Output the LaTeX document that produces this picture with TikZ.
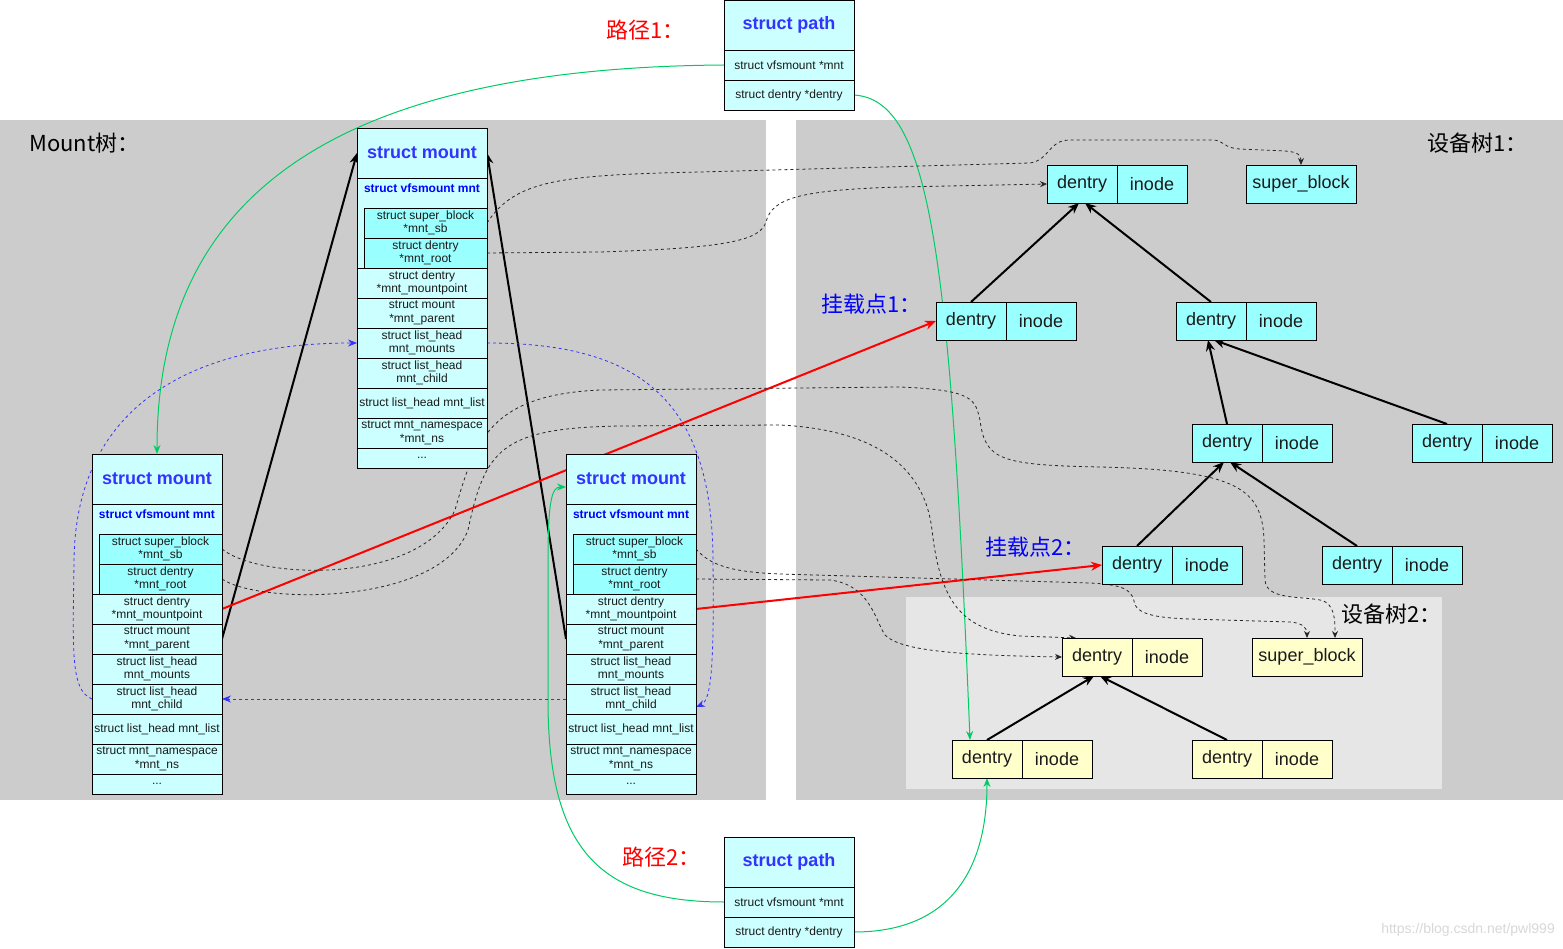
\documentclass[tikz,border=0pt]{standalone}
\usepackage{fontspec}
\setmainfont{Liberation Sans}
\newfontfamily\cjk{Noto Sans CJK SC}
\usetikzlibrary{arrows.meta,calc}
\definecolor{bgg}{HTML}{CCCCCC}
\definecolor{bgl}{HTML}{E6E6E6}
\definecolor{cyl}{HTML}{CCFFFF}
\definecolor{cyd}{HTML}{99FFFF}
\definecolor{yel}{HTML}{FFFFCC}
\definecolor{ttl}{HTML}{3333FF}
\definecolor{vfsb}{HTML}{0000FF}
\definecolor{txc}{HTML}{1A1A1A}
\definecolor{grn}{HTML}{00CC66}
\definecolor{dblue}{HTML}{3333FF}
\definecolor{mpblue}{HTML}{0000FF}
\definecolor{wm}{HTML}{D8D8D8}
\newcommand\fsm{\fontsize{12}{13.5}\selectfont}
\newcommand\fbig{\fontsize{18}{21}\selectfont}
\newcommand\flab{\cjk\fontsize{22}{26}\selectfont}
\pgfdeclarelayer{bg}\pgfdeclarelayer{edges}\pgfsetlayers{bg,edges,main}
\newcommand\mkmount[3]{%
 \node[mtitle] (#1-title) at ({#2},{#3}) {struct mount};
 \node[vfsbox] (#1-vfs) at ({#2},{#3+50}) {};
 \node[vfslbl] (#1-vlbl) at ({#2+65},{#3+60}) {struct vfsmount mnt};
 \node[innerc] (#1-sb) at ({#2+7},{#3+80}) {struct super\_block\\*mnt\_sb};
 \node[innerc] (#1-root) at ({#2+7},{#3+110}) {struct dentry\\*mnt\_root};
 \node[cell] (#1-mp) at ({#2},{#3+140}) {struct dentry\\*mnt\_mountpoint};
 \node[cell] (#1-par) at ({#2},{#3+170}) {struct mount\\*mnt\_parent};
 \node[cell] (#1-mounts) at ({#2},{#3+200}) {struct list\_head\\mnt\_mounts};
 \node[cell] (#1-child) at ({#2},{#3+230}) {struct list\_head\\mnt\_child};
 \node[cell] (#1-list) at ({#2},{#3+260}) {struct list\_head mnt\_list};
 \node[cell] (#1-ns) at ({#2},{#3+290}) {struct mnt\_namespace\\*mnt\_ns};
 \node[dotsrow] (#1-dots) at ({#2},{#3+320}) {...};
}
\newcommand\mkpath[3]{%
 \node[mtitle] (#1-title) at ({#2},{#3}) {struct path};
 \node[cell] (#1-mnt) at ({#2},{#3+50}) {struct vfsmount *mnt};
 \node[cell] (#1-den) at ({#2},{#3+80}) {struct dentry *dentry};
}
\newcommand\mkdent[4]{%
 \node[dent, fill=#4] (#1d) at ({#2},{#3}) {dentry};
 \node[dent, fill=#4] (#1i) at ({#2+70},{#3}) {inode};
}
\begin{document}
\begin{tikzpicture}[x=1pt,y=-1pt,
 cell/.style={draw=black, line width=0.8pt, inner sep=0pt, outer sep=0pt, anchor=north west, align=center, text=txc, font=\fsm, minimum width=130pt, minimum height=30pt, fill=cyl},
 innerc/.style={cell, fill=cyd, minimum width=123pt},
 mtitle/.style={cell, minimum height=50pt, font=\fbig\bfseries, text=ttl},
 vfsbox/.style={cell, minimum height=90pt},
 vfslbl/.style={inner sep=0pt, font=\fsm\bfseries, text=vfsb},
 dotsrow/.style={cell, minimum height=20pt},
 dent/.style={draw=black, line width=0.8pt, inner sep=0pt, outer sep=0pt, anchor=north west, text=txc, font=\fbig, minimum width=70pt, minimum height=38pt},
 sbox/.style={dent, minimum width=110pt},
 tree/.style={draw=black, line width=2pt, -{Stealth[length=11pt,width=9pt]}},
 redarr/.style={tree, draw=red},
 dsh/.style={draw=black!85, line width=0.8pt, dash pattern=on 3pt off 3pt, -{Stealth[length=7pt,width=6pt]}},
 bdsh/.style={draw=dblue, line width=0.8pt, dash pattern=on 3pt off 3pt, -{Stealth[length=9pt,width=7pt]}},
 grl/.style={draw=grn, line width=1pt, -{Stealth[length=9pt,width=7pt]}},
 lbl/.style={anchor=west, inner sep=0pt, font=\flab}
]
\useasboundingbox (0,0) rectangle (1563,949);
\begin{pgfonlayer}{bg}
 \fill[white] (0,0) rectangle (1563,949);
 \fill[bgg] (0,120) rectangle (766,800);
 \fill[bgg] (796,120) rectangle (1563,800);
 \fill[bgl] (906,597) rectangle (1442,789);
\end{pgfonlayer}

% labels
\node[lbl, text=red] (l1) at (606,30) {路径1：};
\node[lbl, text=red] (l2) at (622,857) {路径2：};
\node[lbl, text=black] (l3) at (29,143) {Mount树：};
\node[lbl, text=black] (l4) at (1427,143) {设备树1：};
\node[lbl, text=mpblue] (l5) at (821,304) {挂载点1：};
\node[lbl, text=mpblue] (l6) at (985,547) {挂载点2：};
\node[lbl, text=black] (l7) at (1341,614) {设备树2：};
\node[anchor=east, inner sep=0pt, text=wm, font=\fontsize{14}{16}\selectfont] (wmk) at (1555,930) {https://blog.csdn.net/pwl999};

% structures
\mkpath{P1}{724}{0}
\mkpath{P2}{724}{837}
\mkmount{M0}{357}{128}
\mkmount{M1}{92}{454}
\mkmount{M2}{566}{454}

% device tree 1
\mkdent{D1}{1047}{165}{cyd}
\node[sbox, fill=cyd] (SB1) at (1246,165) {super\_block};
\mkdent{D2}{936}{302}{cyd}
\mkdent{D3}{1176}{302}{cyd}
\mkdent{D4}{1192}{424}{cyd}
\mkdent{D5}{1412}{424}{cyd}
\mkdent{D6}{1102}{546}{cyd}
\mkdent{D7}{1322}{546}{cyd}
% device tree 2
\mkdent{E1}{1062}{638}{yel}
\node[sbox, fill=yel] (SB2) at (1252,638) {super\_block};
\mkdent{E2}{952}{740}{yel}
\mkdent{E3}{1192}{740}{yel}

\begin{pgfonlayer}{edges}
% tree edges
\draw[tree] (D2d.north) -- ([xshift=-3pt]D1d.south);
\draw[tree] (D3d.north) -- ([xshift=3pt]D1d.south);
\draw[tree] (D4d.north) -- ([xshift=-3pt]D3d.south);
\draw[tree] (D5d.north) -- ([xshift=3pt]D3d.south);
\draw[tree] (D6d.north) -- ([xshift=-3pt]D4d.south);
\draw[tree] (D7d.north) -- ([xshift=3pt]D4d.south);
\draw[tree] (E2d.north) -- ([xshift=-3pt]E1d.south);
\draw[tree] (E3d.north) -- ([xshift=3pt]E1d.south);
% parent pointers
\draw[tree] (M1-par.east) -- (M0-title.west);
\draw[tree] (M2-par.west) -- (M0-title.east);
% mountpoints
\draw[redarr] (M1-mp.east) -- (D2d.west);
\draw[redarr] (M2-mp.east) -- (D6d.west);
% green path pointers
\draw[grl] (P1-mnt.west) .. controls (300,68) and (157,220) .. (M1-title.north);
\draw[grl] (P1-den.east) .. controls (930,100) and (950,250) .. ([xshift=-17pt]E2d.north);
\draw[grl] (P2-mnt.west) .. controls (600,902) and (548,850) .. (548,700) -- (548,560) .. controls (548,500) and (552,487) .. ($(M2-title.west)+(0,8)$);
\draw[grl] (P2-den.east) .. controls (950,932) and (987,870) .. (E2d.south);
% blue list links
\draw[bdsh] (M2-child.west) -- (M1-child.east);
\draw[bdsh] (M1-child.west) .. controls (70,690) and (73,650) .. (74,560) .. controls (76,400) and (200,343) .. (M0-mounts.west);
\draw[bdsh] (M0-mounts.east) .. controls (640,343) and (712,400) .. (713,560) .. controls (714,660) and (712,700) .. ($(M2-child.east)+(0,8)$);
% dashed sb / root pointers
\draw[dsh] (M0-sb.east) .. controls (515,180) and (560,175) .. (700,172) -- (1030,163) .. controls (1050,160) and (1048,140) .. (1070,140) -- (1212,140) .. controls (1225,140) and (1222,148) .. (1240,149) -- (1285,151) .. controls (1298,152) and (1301,155) .. (SB1.north);
\draw[dsh] (M0-root.east) -- (600,252) .. controls (730,248) and (760,240) .. (766,222) .. controls (772,198) and (800,190) .. (900,187) -- (D1d.west);
\draw[dsh] (M1-sb.east) .. controls (260,580) and (420,585) .. (455,510) .. controls (475,440) and (490,395) .. (600,390) -- (900,387) .. controls (975,390) and (975,400) .. (980,420) .. controls (985,460) and (1000,465) .. (1100,467) .. controls (1240,470) and (1262,490) .. (1264,540) -- (1265,580) .. controls (1266,600) and (1300,596) .. (1320,600) .. controls (1335,603) and (1335,620) .. ([xshift=28pt]SB2.north);
\draw[dsh] (M1-root.east) .. controls (260,605) and (440,605) .. (468,530) .. controls (485,450) and (500,428) .. (620,426) -- (780,425) .. controls (880,430) and (925,470) .. (932,530) .. controls (940,600) and (960,630) .. (1020,636) -- ([xshift=14pt]E1d.north west);
\draw[dsh] (M2-sb.east) .. controls (710,565) and (730,572) .. (780,574) -- (1090,583) .. controls (1130,585) and (1132,592) .. (1135,605) .. controls (1140,615) and (1160,618) .. (1190,619) -- (1290,622) .. controls (1303,623) and (1307,628) .. (SB2.north);
\draw[dsh] (M2-root.east) -- (830,580) .. controls (870,585) and (875,620) .. (885,635) .. controls (900,650) and (950,655) .. (E1d.west);
\end{pgfonlayer}
\end{tikzpicture}
\end{document}
